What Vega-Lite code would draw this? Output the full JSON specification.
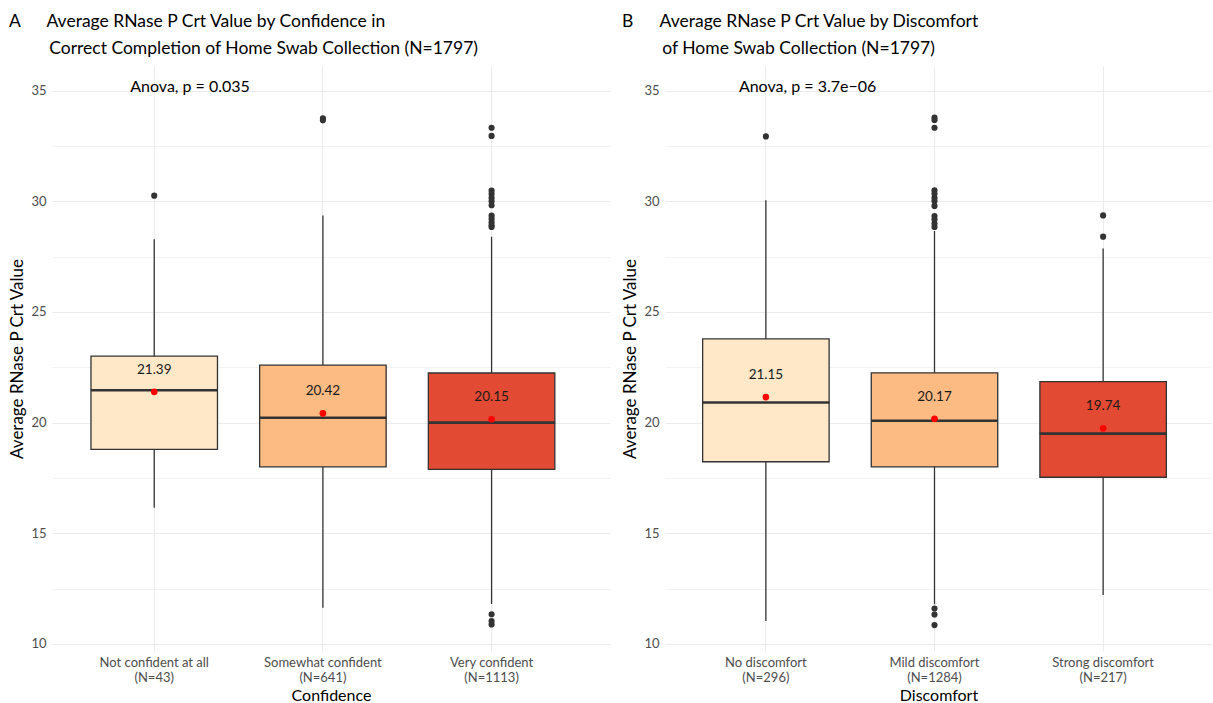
{
  "$schema": "https://vega.github.io/schema/vega-lite/v6.json",
  "background": "white",
  "padding": {"left": 8, "top": 12, "right": 0, "bottom": 0},
  "spacing": 11,
  "config": {
    "font": "Lato",
    "view": {"stroke": null},
    "axis": {
      "domain": false,
      "ticks": false,
      "gridColor": "#ebebeb",
      "labelColor": "#4d4d4d",
      "labelFontSize": 13,
      "titleFontSize": 17,
      "titleFontWeight": "normal",
      "titleColor": "#000000"
    },
    "title": {
      "fontSize": 17.5,
      "fontWeight": "normal",
      "anchor": "start",
      "frame": "bounds",
      "lineHeight": 27,
      "offset": 9,
      "color": "#000000"
    }
  },
  "datasets": {
    "boxA": [
      {"cat": "Not confident at all\n(N=43)", "level": "1", "lo": 16.15, "q1": 18.79, "med": 21.46, "q3": 23.0, "hi": 28.28, "mean": 21.39},
      {"cat": "Somewhat confident\n(N=641)", "level": "2", "lo": 11.63, "q1": 18.0, "med": 20.22, "q3": 22.6, "hi": 29.36, "mean": 20.42},
      {"cat": "Very confident\n(N=1113)", "level": "3", "lo": 11.8, "q1": 17.89, "med": 20.0, "q3": 22.24, "hi": 28.4, "mean": 20.15}
    ],
    "outA": [
      {"cat": "Not confident at all\n(N=43)", "v": 30.25},
      {"cat": "Somewhat confident\n(N=641)", "v": 33.75},
      {"cat": "Somewhat confident\n(N=641)", "v": 33.66},
      {"cat": "Very confident\n(N=1113)", "v": 33.32},
      {"cat": "Very confident\n(N=1113)", "v": 32.95},
      {"cat": "Very confident\n(N=1113)", "v": 30.48},
      {"cat": "Very confident\n(N=1113)", "v": 30.33},
      {"cat": "Very confident\n(N=1113)", "v": 30.15},
      {"cat": "Very confident\n(N=1113)", "v": 30.0},
      {"cat": "Very confident\n(N=1113)", "v": 29.82},
      {"cat": "Very confident\n(N=1113)", "v": 29.35},
      {"cat": "Very confident\n(N=1113)", "v": 29.2},
      {"cat": "Very confident\n(N=1113)", "v": 29.05},
      {"cat": "Very confident\n(N=1113)", "v": 28.92},
      {"cat": "Very confident\n(N=1113)", "v": 28.84},
      {"cat": "Very confident\n(N=1113)", "v": 11.34},
      {"cat": "Very confident\n(N=1113)", "v": 11.03},
      {"cat": "Very confident\n(N=1113)", "v": 10.88}
    ],
    "noteA": [
      {"cat": "Not confident at all\n(N=43)", "label": "Anova, p = 0.035"}
    ],
    "boxB": [
      {"cat": "No discomfort\n(N=296)", "level": "1", "lo": 11.03, "q1": 18.23, "med": 20.91, "q3": 23.78, "hi": 30.04, "mean": 21.15},
      {"cat": "Mild discomfort\n(N=1284)", "level": "2", "lo": 11.79, "q1": 18.0, "med": 20.08, "q3": 22.25, "hi": 28.66, "mean": 20.17},
      {"cat": "Strong discomfort\n(N=217)", "level": "3", "lo": 12.21, "q1": 17.53, "med": 19.5, "q3": 21.85, "hi": 27.86, "mean": 19.74}
    ],
    "outB": [
      {"cat": "No discomfort\n(N=296)", "v": 32.93},
      {"cat": "Mild discomfort\n(N=1284)", "v": 33.78},
      {"cat": "Mild discomfort\n(N=1284)", "v": 33.67},
      {"cat": "Mild discomfort\n(N=1284)", "v": 33.32},
      {"cat": "Mild discomfort\n(N=1284)", "v": 30.49},
      {"cat": "Mild discomfort\n(N=1284)", "v": 30.34},
      {"cat": "Mild discomfort\n(N=1284)", "v": 30.15},
      {"cat": "Mild discomfort\n(N=1284)", "v": 30.01},
      {"cat": "Mild discomfort\n(N=1284)", "v": 29.79},
      {"cat": "Mild discomfort\n(N=1284)", "v": 29.33},
      {"cat": "Mild discomfort\n(N=1284)", "v": 29.18},
      {"cat": "Mild discomfort\n(N=1284)", "v": 28.99},
      {"cat": "Mild discomfort\n(N=1284)", "v": 28.84},
      {"cat": "Mild discomfort\n(N=1284)", "v": 11.6},
      {"cat": "Mild discomfort\n(N=1284)", "v": 11.33},
      {"cat": "Mild discomfort\n(N=1284)", "v": 10.85},
      {"cat": "Strong discomfort\n(N=217)", "v": 29.36},
      {"cat": "Strong discomfort\n(N=217)", "v": 28.4}
    ],
    "noteB": [
      {"cat": "No discomfort\n(N=296)", "label": "Anova, p = 3.7e\u221206"}
    ]
  },
  "resolve": {"scale": {"x": "independent", "y": "independent"}},
  "hconcat": [
    {
      "width": 558,
      "height": 585,
      "title": {"text": ["A\u00a0\u00a0\u00a0\u00a0\u00a0\u00a0Average RNase P Crt Value by Confidence in", "\u200b\u00a0\u00a0\u00a0\u00a0\u00a0\u00a0\u00a0\u00a0\u00a0Correct Completion of Home Swab Collection (N=1797)"]},
      "encoding": {
        "x": {
          "field": "cat", "type": "nominal", "title": "Confidence",
          "scale": {"domain": ["Not confident at all\n(N=43)", "Somewhat confident\n(N=641)", "Very confident\n(N=1113)"], "paddingInner": 0.25, "paddingOuter": 0.279, "align": 0.414},
          "axis": {"labelAngle": 0, "labelExpr": "split(datum.label, '\\n')", "labelLineHeight": 15, "labelPadding": 5, "grid": true, "bandPosition": 0.5, "gridWidth": 1.1, "titlePadding": 3, "titleFontSize": 16}
        }
      },
      "layer": [
        {
          "data": {"name": "boxA"},
          "mark": {"type": "rule", "color": "#333333", "strokeWidth": 1.3},
          "encoding": {
            "y": {"field": "lo", "type": "quantitative", "title": "Average RNase P Crt Value",
              "scale": {"domain": [9.68, 36.11], "nice": false, "zero": false},
              "axis": {"values": [10, 12.5, 15, 17.5, 20, 22.5, 25, 27.5, 30, 32.5, 35], "labelExpr": "datum.value % 5 === 0 ? datum.label : ''", "gridWidth": {"condition": {"test": "datum.value % 5 === 0", "value": 1.1}, "value": 0.6}, "labelPadding": 6, "titlePadding": 4}},
            "y2": {"field": "hi"}
          }
        },
        {
          "data": {"name": "boxA"},
          "mark": {"type": "bar", "stroke": "#333333", "strokeWidth": 1.3},
          "encoding": {
            "y": {"field": "q1", "type": "quantitative"},
            "y2": {"field": "q3"},
            "color": {"field": "level", "type": "nominal", "scale": {"domain": ["1", "2", "3"], "range": ["#fee8c8", "#fdbb84", "#e34a33"]}, "legend": null}
          }
        },
        {
          "data": {"name": "boxA"},
          "mark": {"type": "tick", "color": "#333333", "thickness": 2.6, "size": 127, "opacity": 1},
          "encoding": {"y": {"field": "med", "type": "quantitative"}}
        },
        {
          "data": {"name": "outA"},
          "mark": {"type": "circle", "color": "#333333", "size": 38, "opacity": 1},
          "encoding": {"y": {"field": "v", "type": "quantitative"}}
        },
        {
          "data": {"name": "boxA"},
          "mark": {"type": "circle", "color": "#ff0000", "size": 45, "opacity": 1},
          "encoding": {"y": {"field": "mean", "type": "quantitative"}}
        },
        {
          "data": {"name": "boxA"},
          "mark": {"type": "text", "fontSize": 13.5, "color": "#1a1a1a", "dy": -22, "baseline": "middle"},
          "encoding": {"y": {"field": "mean", "type": "quantitative"}, "text": {"field": "mean", "type": "quantitative", "format": ".2f"}}
        },
        {
          "data": {"name": "noteA"},
          "mark": {"type": "text", "fontSize": 16, "color": "#000000", "align": "left", "dx": -24, "baseline": "middle"},
          "encoding": {
            "y": {"datum": 35.17},
            "text": {"field": "label", "type": "nominal"}
          }
        }
      ]
    },
    {
      "width": 547,
      "height": 585,
      "title": {"text": ["B\u00a0\u00a0\u00a0\u00a0\u00a0\u00a0Average RNase P Crt Value by Discomfort", "\u200b\u00a0\u00a0\u00a0\u00a0\u00a0\u00a0\u00a0\u00a0\u00a0of Home Swab Collection (N=1797)"]},
      "encoding": {
        "x": {
          "field": "cat", "type": "nominal", "title": "Discomfort",
          "scale": {"domain": ["No discomfort\n(N=296)", "Mild discomfort\n(N=1284)", "Strong discomfort\n(N=217)"], "paddingInner": 0.25, "paddingOuter": 0.247, "align": 0.452},
          "axis": {"labelAngle": 0, "labelExpr": "split(datum.label, '\\n')", "labelLineHeight": 15, "labelPadding": 5, "grid": true, "bandPosition": 0.5, "gridWidth": 1.1, "titlePadding": 3, "titleFontSize": 16}
        }
      },
      "layer": [
        {
          "data": {"name": "boxB"},
          "mark": {"type": "rule", "color": "#333333", "strokeWidth": 1.3},
          "encoding": {
            "y": {"field": "lo", "type": "quantitative", "title": "Average RNase P Crt Value",
              "scale": {"domain": [9.68, 36.11], "nice": false, "zero": false},
              "axis": {"values": [10, 12.5, 15, 17.5, 20, 22.5, 25, 27.5, 30, 32.5, 35], "labelExpr": "datum.value % 5 === 0 ? datum.label : ''", "gridWidth": {"condition": {"test": "datum.value % 5 === 0", "value": 1.1}, "value": 0.6}, "labelPadding": 6, "titlePadding": 4}},
            "y2": {"field": "hi"}
          }
        },
        {
          "data": {"name": "boxB"},
          "mark": {"type": "bar", "stroke": "#333333", "strokeWidth": 1.3},
          "encoding": {
            "y": {"field": "q1", "type": "quantitative"},
            "y2": {"field": "q3"},
            "color": {"field": "level", "type": "nominal", "scale": {"domain": ["1", "2", "3"], "range": ["#fee8c8", "#fdbb84", "#e34a33"]}, "legend": null}
          }
        },
        {
          "data": {"name": "boxB"},
          "mark": {"type": "tick", "color": "#333333", "thickness": 2.6, "size": 127, "opacity": 1},
          "encoding": {"y": {"field": "med", "type": "quantitative"}}
        },
        {
          "data": {"name": "outB"},
          "mark": {"type": "circle", "color": "#333333", "size": 38, "opacity": 1},
          "encoding": {"y": {"field": "v", "type": "quantitative"}}
        },
        {
          "data": {"name": "boxB"},
          "mark": {"type": "circle", "color": "#ff0000", "size": 45, "opacity": 1},
          "encoding": {"y": {"field": "mean", "type": "quantitative"}}
        },
        {
          "data": {"name": "boxB"},
          "mark": {"type": "text", "fontSize": 13.5, "color": "#1a1a1a", "dy": -22, "baseline": "middle"},
          "encoding": {"y": {"field": "mean", "type": "quantitative"}, "text": {"field": "mean", "type": "quantitative", "format": ".2f"}}
        },
        {
          "data": {"name": "noteB"},
          "mark": {"type": "text", "fontSize": 16, "color": "#000000", "align": "left", "dx": -27, "baseline": "middle"},
          "encoding": {
            "y": {"datum": 35.17},
            "text": {"field": "label", "type": "nominal"}
          }
        }
      ]
    }
  ]
}
